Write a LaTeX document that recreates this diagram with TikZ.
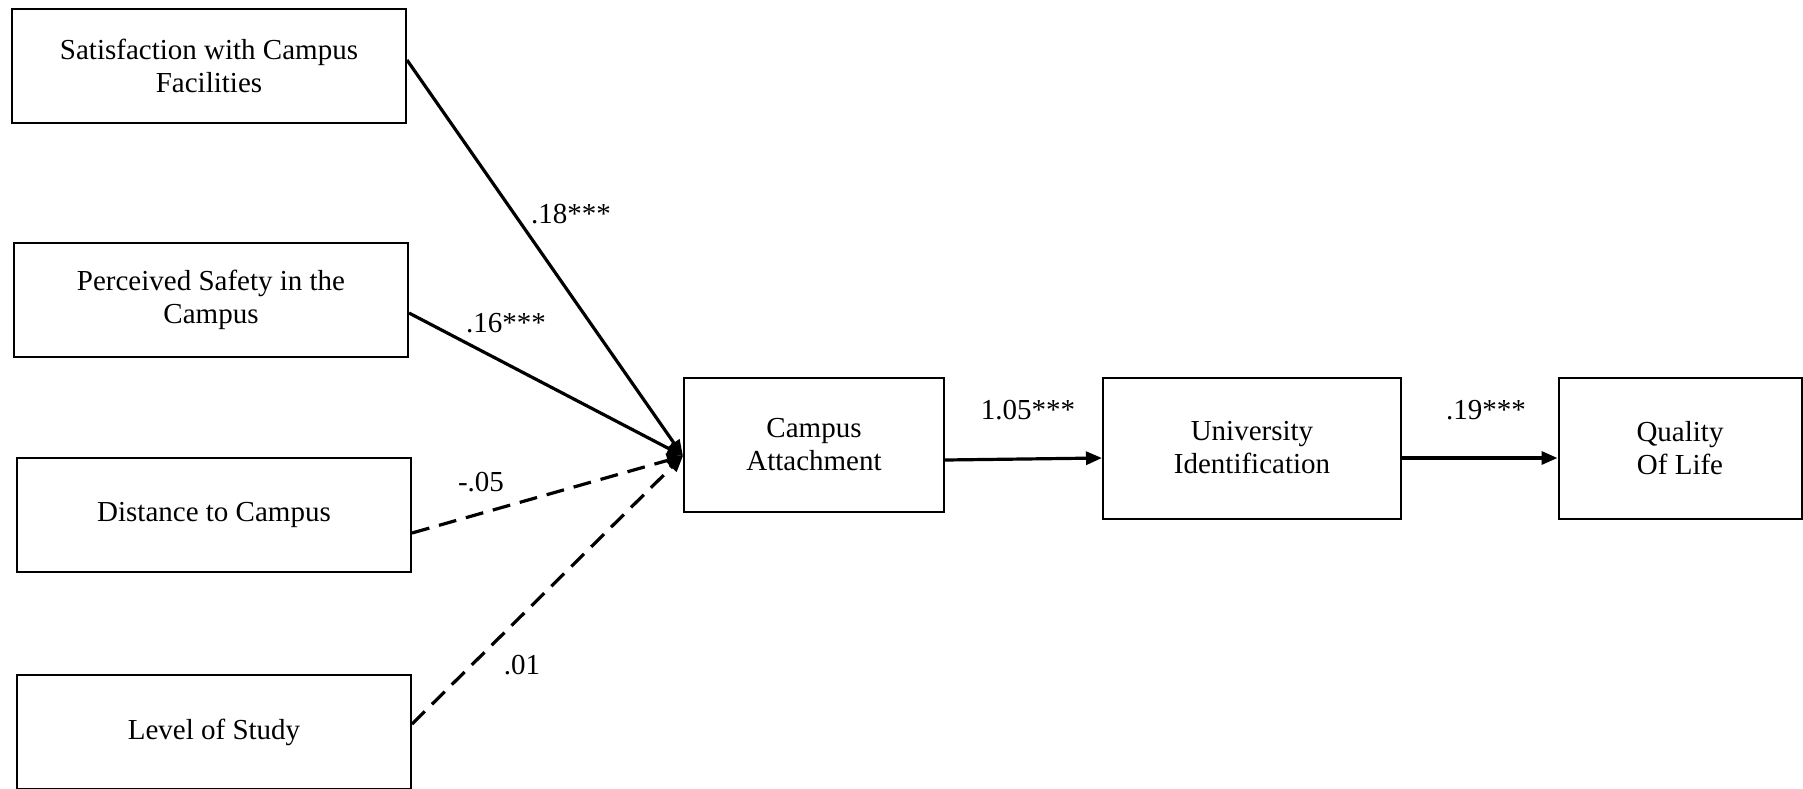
\documentclass[tikz,border=0pt]{standalone}
\usepackage{fontspec}
\setmainfont{Liberation Serif}
\usetikzlibrary{arrows.meta}

\tikzset{
  >={Triangle[length=8pt,width=6.5pt]},
  var/.style={draw, line width=1pt, align=center, inner sep=2pt, font=\fontsize{14.5}{16.5}\selectfont},
  predictor/.style={var, minimum width=197pt, minimum height=57pt},
  effect/.style={->, line width=1.6pt},
  weak/.style={effect, dash pattern=on 9pt off 5pt},
  coef/.style={inner sep=0pt, font=\fontsize{14.5}{16.5}\selectfont}
}

\begin{document}
\begin{tikzpicture}[x=0.5pt, y=-0.5pt]
    \useasboundingbox (0,0) rectangle (1803,788);
    % Draw predictor boxes
    \node [predictor] (sat) at (209,66) {Satisfaction with Campus\\Facilities};
    \node [predictor] (safe) at (211,300) {Perceived Safety in the\\Campus};
    \node [predictor] (dist) at (214,515) {Distance to Campus};
    \node [predictor] (level) at (214,732) {Level of Study};
    % Draw mediators and outcome
    \node [var, minimum width=130pt, minimum height=67pt] (att) at (814,445) {Campus\\Attachment};
    \node [var, minimum width=149pt, minimum height=70.5pt] (uni) at (1252,448) {University\\Identification};
    \node [var, minimum width=121.5pt, minimum height=70.5pt] (qol) at (1680,448) {Quality\\Of Life};
    % Draw paths into campus attachment
    \coordinate (hub) at ([yshift=-5.5pt]att.west);
    \draw [effect] ([yshift=3pt]sat.east) -- (hub);
    \draw [effect] ([yshift=-6.5pt]safe.east) -- (hub);
    \draw [weak] ([yshift=-9pt]dist.east) -- (hub);
    \draw [weak] ([yshift=4pt]level.east) -- (hub);
    % Draw mediation chain
    \draw [effect] ([yshift=-7.5pt]att.east) -- ([yshift=-5pt]uni.west);
    \draw [effect] ([yshift=-5pt]uni.east) -- ([yshift=-5pt]qol.west);
    % Path coefficients
    \node [coef] (csat) at (571,214) {.18***};
    \node [coef] (csafe) at (506,323) {.16***};
    \node [coef] (cdist) at (481,482) {-.05};
    \node [coef] (clevel) at (522,665) {.01};
    \node [coef] (catt) at (1028,410) {1.05***};
    \node [coef] (cuni) at (1486,410) {.19***};
\end{tikzpicture}
\end{document}
